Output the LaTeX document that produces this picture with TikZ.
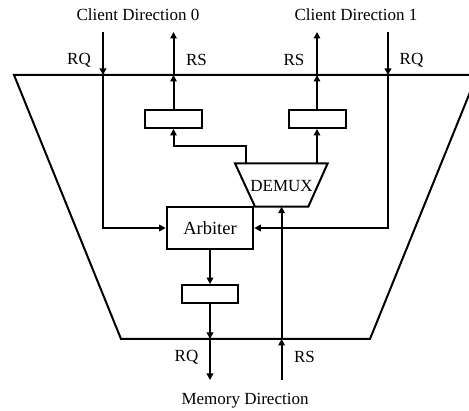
\documentclass[tikz,border=0pt]{standalone}
\usepackage{fontspec}
\setmainfont{Liberation Serif}
\usetikzlibrary{arrows.meta}

\begin{document}
\begin{tikzpicture}[x=1pt,y=-1pt,
  wire/.style={line width=2pt},
  arr/.style={wire,-{Triangle[length=6.5pt,width=6.5pt]}},
  reg/.style={draw,line width=2pt,minimum width=57pt,minimum height=18pt,inner sep=0pt},
  lbl/.style={font=\fontsize{17}{20}\selectfont,inner sep=0pt},
]
\useasboundingbox (0,0) rectangle (469,411);

% outer boundary (right corner runs off the page)
\begin{scope}
\clip (0,0) rectangle (469,411);
\draw[wire,line join=miter] (14,75) -- (477,75) -- (370,339) -- (121,339) -- cycle;
\end{scope}

% registers and arbiter
\node[reg] (reg0) at (173.5,119) {};
\node[reg] (reg1) at (317,119) {};
\node[reg,minimum width=56.5pt,minimum height=17.7pt] (regm) at (210,294) {};
\node[draw,line width=2pt,minimum width=86.6pt,minimum height=42.6pt,inner sep=0pt,
      font=\fontsize{18.5}{20}\selectfont] (arb) at (210,228) {Arbiter};

% demultiplexer
\draw[wire,line join=miter] (235,163.3) -- (327.7,163.3) -- (308.3,206.7) -- (255,206.7) -- cycle;
\node[lbl] (demux) at (281.6,186) {DEMUX};
\coordinate (dmL) at (245.7,163.3);
\coordinate (dmR) at (317,163.3);
\coordinate (dmIn) at (281.6,206.7);

% boundary crossings and free ends
\coordinate (rq0a) at (103,32);  \coordinate (rq0b) at (103,75);
\coordinate (rq1a) at (388,32);  \coordinate (rq1b) at (388,75);
\coordinate (rs0a) at (173.5,32); \coordinate (rs0b) at (173.5,75);
\coordinate (rs1a) at (317,32);  \coordinate (rs1b) at (317,75);
\coordinate (mrqa) at (210,339); \coordinate (mrqb) at (210,380);
\coordinate (mrsa) at (281.6,339); \coordinate (mrsb) at (281.6,380);

% client requests into the arbiter
\draw[arr] (rq0a) -- (rq0b);
\draw[arr] (rq0b) |- (arb.west);
\draw[arr] (rq1a) -- (rq1b);
\draw[arr] (rq1b) |- (arb.east);

% responses back to the clients
\draw[arr] (reg0.north) -- (rs0b);
\draw[arr] (rs0b) -- (rs0a);
\draw[arr] (reg1.north) -- (rs1b);
\draw[arr] (rs1b) -- (rs1a);
\draw[arr] (dmL) -- (245.7,145.7) -| (reg0.south);
\draw[arr] (dmR) -- (reg1.south);

% memory side
\draw[arr] (arb.south) -- (regm.north);
\draw[arr] (regm.south) -- (mrqa);
\draw[arr] (mrqa) -- (mrqb);
\draw[arr] (mrsb) -- (mrsa);
\draw[arr] (mrsa) -- (dmIn);

% labels
\node[lbl] (cd0) at (138,15) {Client Direction 0};
\node[lbl] (cd1) at (356,15) {Client Direction 1};
\node[lbl] (lrq0) at (79,60) {RQ};
\node[lbl] (lrs0) at (196.5,60) {RS};
\node[lbl] (lrs1) at (294,60) {RS};
\node[lbl] (lrq1) at (411.5,60) {RQ};
\node[lbl] (lrqm) at (186.5,357) {RQ};
\node[lbl] (lrsm) at (304.5,357) {RS};
\node[lbl] (md) at (245,401) {Memory Direction};
\end{tikzpicture}
\end{document}
